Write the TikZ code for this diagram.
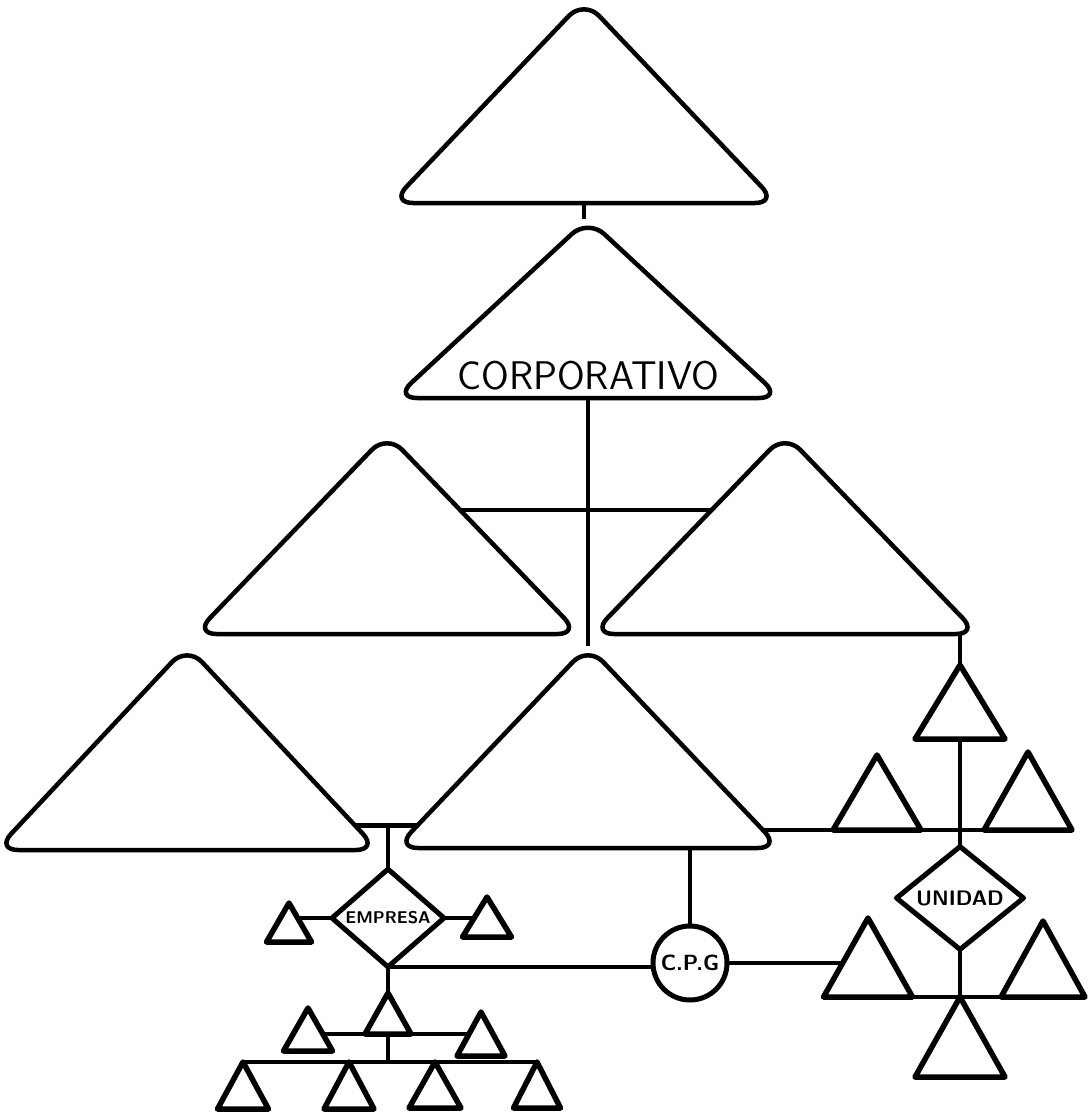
\documentclass[tikz,border=0pt]{standalone}
\usetikzlibrary{positioning,shapes.geometric,calc}

\begin{document}
\begin{tikzpicture}[x=1pt, y=-1pt,
    every node/.style={outer sep=0pt},
    bigtri/.style={draw, isosceles triangle, isosceles triangle stretches,
      shape border rotate=90, rounded corners=22pt, line width=4.5pt,
      inner sep=0pt, anchor=apex},
    smalltri/.style={draw, isosceles triangle, isosceles triangle stretches,
      shape border rotate=90, line width=5.5pt, line join=round,
      inner sep=0pt, anchor=apex},
    unit/.style={draw, diamond, line width=5pt, line join=round, inner sep=0pt,
      font=\sffamily\bfseries},
    link/.style={line width=4.5pt}]
    \useasboundingbox (0,0) rectangle (1092,1114);

    % big levels
    \node[bigtri, minimum width=386pt, minimum height=203pt] (top) at (584,0) {};
    \node[bigtri, minimum width=386pt, minimum height=179pt] (corp) at (588,219) {};
    \node[inner sep=0pt, font=\sffamily\fontsize{40}{40}\selectfont,
      above=8pt of corp.lower side] (corplabel) {CORPORATIVO};
    \node[bigtri, minimum width=385pt, minimum height=200pt] (ml) at (387,434) {};
    \node[bigtri, minimum width=386pt, minimum height=200pt] (mr) at (785,434) {};
    \node[bigtri, minimum width=382pt, minimum height=204pt] (bl) at (187,646) {};
    \node[bigtri, minimum width=384pt, minimum height=202pt] (bc) at (588,646) {};

    % empresa branch
    \node[unit, minimum width=112pt, minimum height=90pt,
      font=\sffamily\bfseries\fontsize{17}{17}\selectfont] (emp) at (388,918) {EMPRESA};
    \node[smalltri, minimum width=45pt, minimum height=39pt] (e1) at (289,903) {};
    \node[smalltri, minimum width=49pt, minimum height=40pt] (e2) at (487,897) {};
    \node[smalltri, minimum width=46pt, minimum height=41pt] (e3) at (388,993) {};
    \node[smalltri, minimum width=49pt, minimum height=43pt] (e4) at (308,1008) {};
    \node[smalltri, minimum width=48pt, minimum height=44pt] (e5) at (481,1012) {};
    \node[smalltri, minimum width=51pt, minimum height=47pt] (b1) at (243,1062) {};
    \node[smalltri, minimum width=50pt, minimum height=47pt] (b2) at (349,1062) {};
    \node[smalltri, minimum width=52pt, minimum height=46pt] (b3) at (435,1062) {};
    \node[smalltri, minimum width=47pt, minimum height=46pt] (b4) at (537,1062) {};

    \node[draw, circle, line width=5pt, minimum size=74pt, inner sep=0pt,
      font=\sffamily\bfseries\fontsize{22}{22}\selectfont] (cpg) at (690,963) {C.P.G};

    % unidad branch
    \node[smalltri, minimum width=90pt, minimum height=74pt] (r1) at (960,665) {};
    \node[smalltri, minimum width=88pt, minimum height=75pt] (r2) at (877,755) {};
    \node[smalltri, minimum width=88pt, minimum height=78pt] (r3) at (1028,752) {};
    \node[unit, minimum width=127pt, minimum height=92pt,
      font=\sffamily\bfseries\fontsize{21}{21}\selectfont] (und) at (960,898) {UNIDAD};
    \node[smalltri, minimum width=89pt, minimum height=79pt] (r4) at (868,918) {};
    \node[smalltri, minimum width=84pt, minimum height=76pt] (r5) at (1043,921) {};
    \node[smalltri, minimum width=90pt, minimum height=80pt] (r6) at (960,997) {};

    % points on the sides
    \coordinate (mlr) at ($(ml.apex)!0.38!(ml.right corner)$);
    \coordinate (mrl) at ($(mr.apex)!0.38!(mr.left corner)$);
    \coordinate (blr) at ($(bl.apex)!0.88!(bl.right corner)$);
    \coordinate (bcl) at ($(bc.apex)!0.88!(bc.left corner)$);
    \coordinate (bcr) at ($(bc.apex)!0.91!(bc.right corner)$);
    \coordinate (e1r) at ($(e1.apex)!0.38!(e1.right corner)$);
    \coordinate (e2l) at ($(e2.apex)!0.52!(e2.left corner)$);
    \coordinate (e4r) at ($(e4.apex)!0.6!(e4.right corner)$);
    \coordinate (e5l) at ($(e5.apex)!0.5!(e5.left corner)$);
    \coordinate (r4l) at ($(r4.apex)!0.57!(r4.left corner)$);

    \draw[link] (top.lower side) -- (top.lower side |- corp.apex);
    \draw[link] (corp.lower side) -- (bc.apex);
    \draw[link] (mlr) -- (mlr -| mrl);
    \draw[link] (blr) -- (blr -| bcl);
    \draw[link] (emp.north) -- (emp.north |- blr);
    \draw[link] (emp.west) -- (emp.west -| e1r);
    \draw[link] (emp.east) -- (emp.east -| e2l);
    \draw[link] (emp.south) -- (e3.apex);
    \draw[link] (emp.south) -- (emp.south -| cpg.west);
    \draw[link] (cpg.north) -- (cpg.north |- bc.lower side);
    \draw[link] (cpg.east) -- (cpg.east -| r4l);
    \draw[link] (bcr) -- (bcr -| r2.left corner);
    \draw[link] (r2.right corner) -- (r3.left corner);
    \draw[link] (r1.apex) -- (r1.apex |- mr.lower side);
    \draw[link] (r1.lower side) -- (und.north);
    \draw[link] (und.south) -- (r6.apex);
    \draw[link] (r4.right corner) -- (r5.left corner);
    \draw[link] (e4r) -- (e4r -| e5l);
    \draw[link] (e3.lower side) -- (e3.lower side |- b1.apex);
    \draw[link] (b1.apex) -- (b4.apex);
\end{tikzpicture}
\end{document}
